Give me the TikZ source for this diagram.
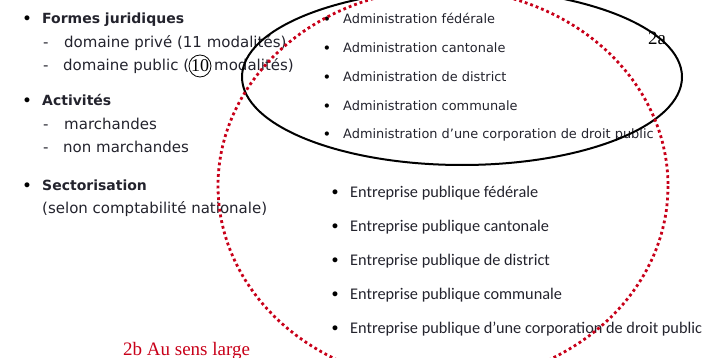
\documentclass[tikz,border=0pt]{standalone}
\usepackage{fontspec}
\setmainfont{Liberation Serif}
\newfontfamily\leftfont{DejaVu Sans}
\newfontfamily\admfont{DejaVu Sans}
\newfontfamily\entfont{Carlito}
\definecolor{dotred}{RGB}{200,0,25}
\definecolor{txt}{RGB}{35,35,45}
\begin{document}
\begin{tikzpicture}[x=1pt,y=-1pt,
  lefttxt/.style={anchor=base west,inner sep=0pt,text=txt,font=\leftfont\fontsize{15}{17}\selectfont},
  leftbold/.style={lefttxt,font=\leftfont\bfseries\fontsize{14}{16}\selectfont},
  adm/.style={anchor=base west,inner sep=0pt,text=txt,font=\admfont\fontsize{12.9}{14}\selectfont},
  ent/.style={anchor=base west,inner sep=0pt,text=txt,font=\entfont\fontsize{16.3}{18}\selectfont},
  bul/.style={anchor=base,inner sep=0pt,text=black,font=\leftfont\bfseries\fontsize{14}{15}\selectfont},
  serif/.style={inner sep=0pt,font=\fontsize{19}{21}\selectfont},
  dotline/.style={draw=dotred,line width=2.8pt,line cap=butt,dash pattern=on 2.8pt off 3pt},
  blackline/.style={draw=black,line width=2pt}]
\useasboundingbox (0,0) rectangle (719,358);
% left list
\node[bul] (b1) at (27,24) {•};
\node[leftbold] (t1) at (42,24) {Formes juridiques};
\node[lefttxt] (d1) at (43,48) {-};
\node[lefttxt] (t2) at (64,48) {domaine privé (11 modalités)};
\node[lefttxt] (d2) at (43,71) {-};
\node[lefttxt] (t3) at (63,71) {domaine public (};
\node[draw=black,circle,line width=0.8pt,fill=white,inner sep=0pt,minimum size=22pt,font=\fontsize{18}{20}\selectfont] (c10) at (200,66) {10};
\node[lefttxt] (t3b) at (214,71) {modalités)};
\node[bul] (b2) at (27,106) {•};
\node[leftbold] (t4) at (42,106) {Activités};
\node[lefttxt] (d3) at (43,130) {-};
\node[lefttxt] (t5) at (64,130) {marchandes};
\node[lefttxt] (d4) at (43,153) {-};
\node[lefttxt] (t6) at (63,153) {non marchandes};
\node[bul] (b3) at (27,190) {•};
\node[leftbold] (t7) at (42,190) {Sectorisation};
\node[lefttxt] (t8) at (42,213) {(selon comptabilité nationale)};
% administration list
\foreach \y/\t [count=\i] in {24/Administration fédérale,53/Administration cantonale,82/Administration de district,111/Administration communale,139/Administration d’une corporation de droit public}{
  \node[bul,font=\admfont\bfseries\fontsize{12}{13}\selectfont] (ab\i) at (327,\y) {•};
  \node[adm] (a\i) at (343,\y) {\t};
}
% entreprise list
\foreach \y/\t [count=\i] in {197/Entreprise publique fédérale,231/Entreprise publique cantonale,265/Entreprise publique de district,299/Entreprise publique communale,333/Entreprise publique d’une corporation de droit public}{
  \node[bul] (eb\i) at (335,\y) {•};
  \node[ent] (e\i) at (350,\y) {\t};
}
% ellipses
\draw[blackline] (462,77) ellipse [x radius=220, y radius=88];
\draw[dotline] (443,186) ellipse [x radius=225, y radius=197];
% labels
\node[serif,anchor=base west] (l2a) at (648,45) {2a};
\node[serif,anchor=base west,text=dotred] (l2b) at (123,355) {2b Au sens large};
\end{tikzpicture}
\end{document}
